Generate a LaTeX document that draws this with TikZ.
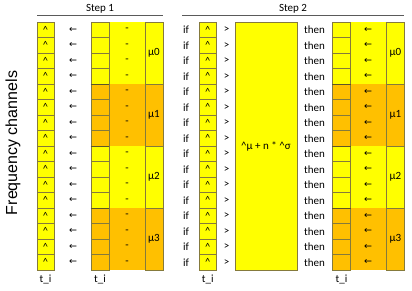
\documentclass[tikz,border=0pt]{standalone}
\usepackage{fontspec}
\setmainfont{Carlito}
\newfontfamily\labelfont{Liberation Sans}
\newfontfamily\arrowfont{DejaVu Sans}
\usetikzlibrary{positioning}

\definecolor{cellyellow}{HTML}{FFFF00}
\definecolor{cellorange}{HTML}{FFC000}
\definecolor{celledge}{HTML}{857A3C}
\definecolor{steprule}{HTML}{5A5A5A}

\tikzset{
  cell/.style={draw=celledge,line width=0.7pt,minimum height=15.5pt,inner sep=0pt,font=\fontsize{10.5}{12}\selectfont},
  plain/.style={inner sep=0pt,font=\fontsize{11}{12}\selectfont},
  arr/.style={inner sep=0pt,font=\arrowfont\fontsize{9.5}{10}\selectfont},
  steplabel/.style={inner sep=0pt,font=\fontsize{11}{12}\selectfont},
  steprulestyle/.style={steprule,line width=1.6pt}
}

\begin{document}
\begin{tikzpicture}[x=1pt,y=-1pt]
\useasboundingbox[fill=white] (0,0) rectangle (412,291);

% side label
\node[rotate=90,inner sep=0pt,font=\labelfont\fontsize{16}{18}\selectfont] (freq) at (13,143) {Frequency channels};

% step headers
\node[steplabel] (step1) at (100,8.5) {Step 1};
\node[steplabel] (step2) at (293,8.5) {Step 2};
\coordinate (s1l) at (37,15.5);
\coordinate (s1r) at (163,15.5);
\coordinate (s2l) at (182,15.5);
\coordinate (s2r) at (404,15.5);
\draw[steprulestyle] (s1l)--(s1r);
\draw[steprulestyle] (s2l)--(s2r);

% group bands (dash column, arrow column) and mu boxes
\foreach \g in {0,...,3}{
  \pgfmathsetmacro{\top}{22+62*\g}
  \pgfmathsetmacro{\bot}{22+62*(\g+1)}
  \pgfmathtruncatemacro{\odd}{mod(\g,2)}
  \ifnum\odd=1 \def\fillc{cellorange}\else\def\fillc{cellyellow}\fi
  \fill[\fillc] (109,\top) rectangle (145,\bot);
  \fill[\fillc] (350.3,\top) rectangle (386.3,\bot);
  \node[cell,fill=\fillc,minimum width=18pt,minimum height=62pt,font=\fontsize{11}{12}\selectfont] (mua\g) at (154,{(\top+\bot)/2}) {μ\g};
  \node[cell,fill=\fillc,minimum width=18.4pt,minimum height=62pt,font=\fontsize{11}{12}\selectfont] (mub\g) at (395.5,{(\top+\bot)/2}) {μ\g};
}

% big box
\node[cell,fill=cellyellow,minimum width=62pt,minimum height=248pt,font=\fontsize{11}{12}\selectfont] (sample) at (266,146) {\textasciicircum μ + n * \textasciicircum σ};

% rows
\foreach \i in {0,...,15}{
  \pgfmathsetmacro{\y}{22+15.5*(\i+0.5)}
  \pgfmathtruncatemacro{\g}{int(\i/4)}
  \pgfmathtruncatemacro{\odd}{mod(\g,2)}
  \ifnum\odd=1 \def\fillc{cellorange}\else\def\fillc{cellyellow}\fi
  % step 1
  \node[cell,fill=cellyellow,minimum width=17pt] (hata\i) at (45.5,\y) {\textasciicircum};
  \node[arr] (arra\i) at (73,\y) {←};
  \node[cell,fill=\fillc,minimum width=18pt] (tia\i) at (100,\y) {};
  \node[plain] (dash\i) at (127,\y) {-};
  % step 2
  \node[plain] (if\i) at (186,\y) {if};
  \node[cell,fill=cellyellow,minimum width=16.5pt] (hatb\i) at (207.75,\y) {\textasciicircum};
  \node[plain] (gt\i) at (226.7,\y) {>};
  \node[plain] (then\i) at (314.5,\y) {then};
  \node[cell,fill=\fillc,minimum width=17.6pt] (tib\i) at (341.5,\y) {};
  \node[arr] (arrb\i) at (368,\y) {←};
}

% group boundaries in the t_i columns
\foreach \g in {1,2,3}{
  \draw[celledge!70!black,line width=1.3pt] (tia\the\numexpr4*\g-1\relax.south west) -- (tia\the\numexpr4*\g-1\relax.south east);
  \draw[celledge!70!black,line width=1.3pt] (tib\the\numexpr4*\g-1\relax.south west) -- (tib\the\numexpr4*\g-1\relax.south east);
}

% column labels
\node[plain] (lbla) at (45.5,279) {t\_i};
\node[plain] (lblb) at (100,279) {t\_i};
\node[plain] (lblc) at (207.75,279) {t\_i};
\node[plain] (lbld) at (341.5,279) {t\_i};

\end{tikzpicture}
\end{document}
